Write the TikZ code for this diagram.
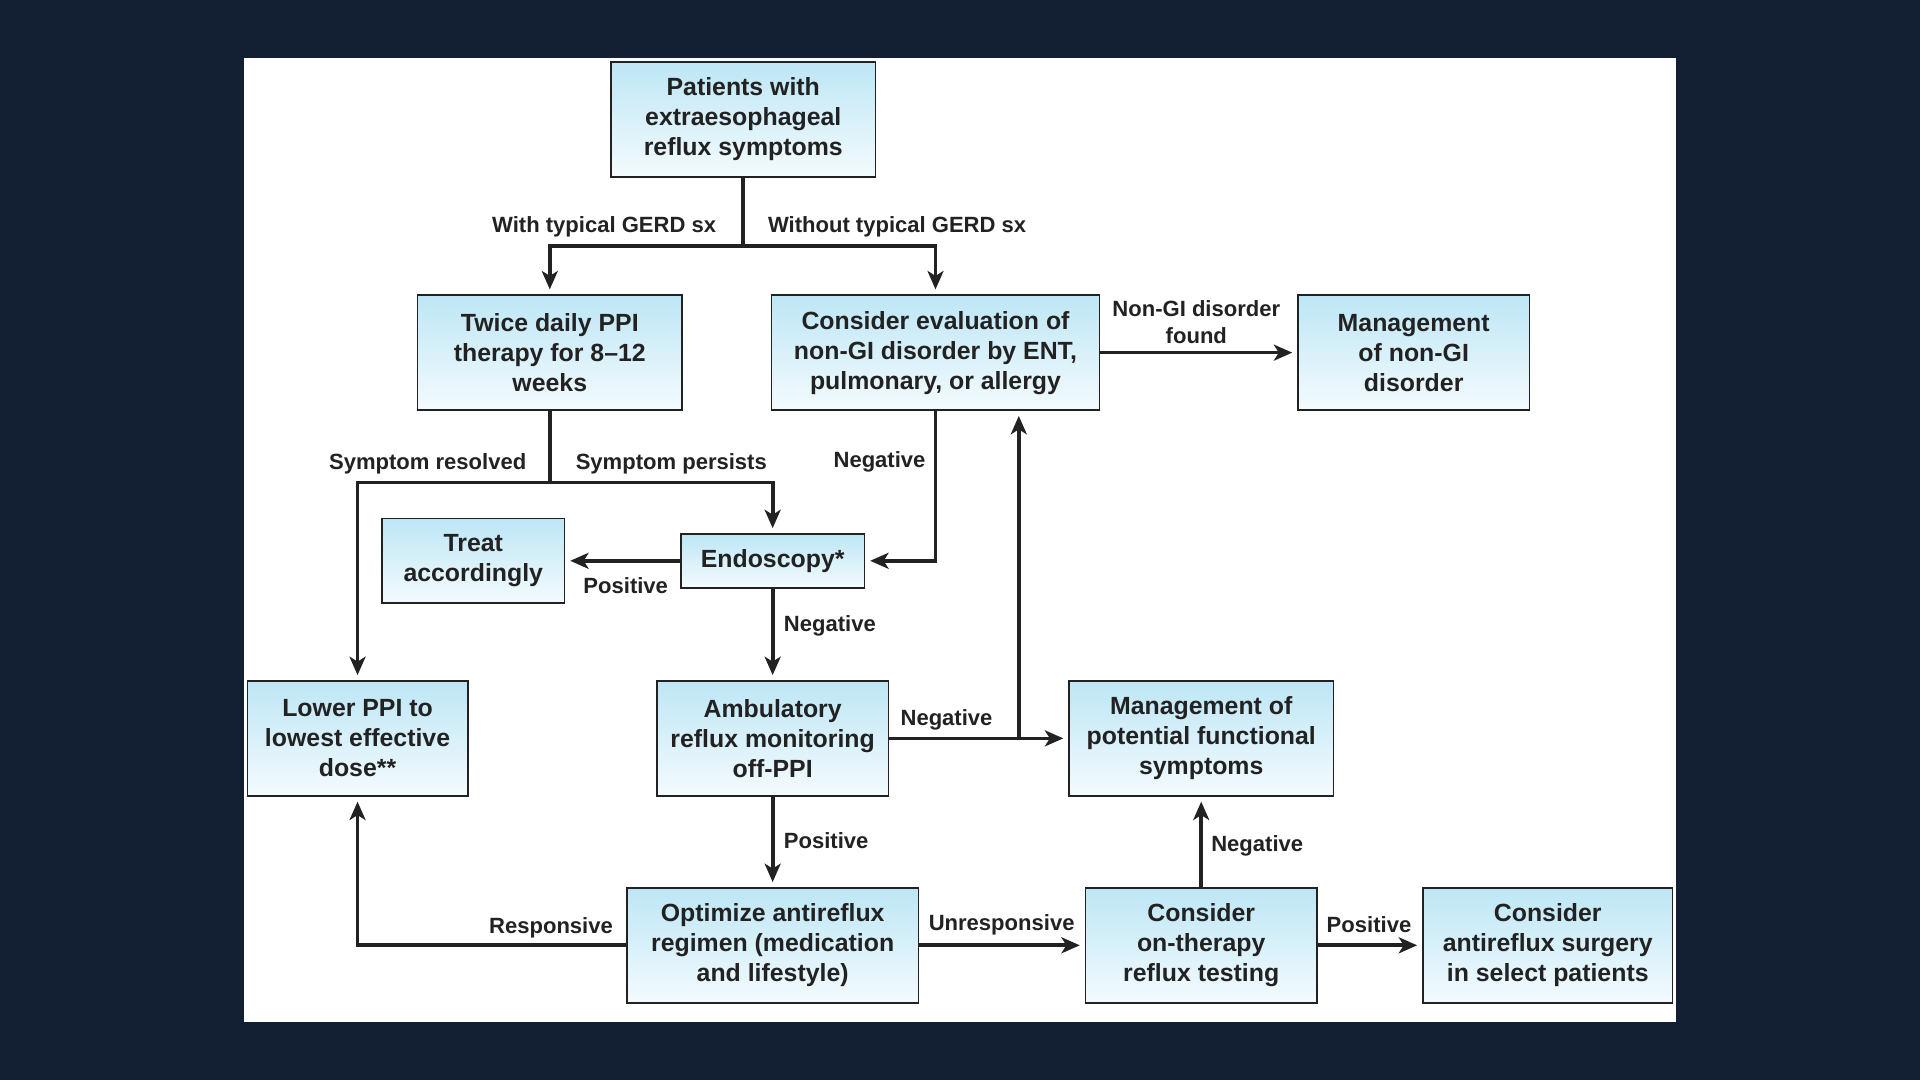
\documentclass[tikz,border=0pt]{standalone}
\usepackage{fontspec}
\setmainfont{Liberation Sans}
\usetikzlibrary{arrows.meta}
\definecolor{navy}{HTML}{132034}
\definecolor{boxtop}{HTML}{BDE6F5}
\definecolor{boxbot}{HTML}{F4FBFE}
\definecolor{ink}{HTML}{222222}
\begin{document}
\begin{tikzpicture}[x=1pt,y=-1pt,
  box/.style={draw=ink, line width=1.3pt, top color=boxtop, bottom color=boxbot,
    align=center, font=\bfseries\fontsize{20.3}{24.5}\selectfont, text=ink, inner sep=0pt},
  lbl/.style={font=\bfseries\fontsize{18}{21.5}\selectfont, text=ink, inner sep=0pt, align=center},
  conn/.style={draw=ink, line width=3pt},
  arr/.style={conn, -{Stealth[length=15pt,width=13pt,inset=4pt]}, shorten >=4pt}]
\fill[navy] (0,0) rectangle (1568,882);
\fill[white] (199,47) rectangle (1369,835);
\useasboundingbox (0,0) rectangle (1568,882);

% boxes
\node[box, minimum width=216pt, minimum height=94pt] (pt) at (607,97.5) {Patients with\\extraesophageal\\reflux symptoms};
\node[box, minimum width=216pt, minimum height=94pt] (tw) at (449,288) {Twice daily PPI\\therapy for 8--12\\weeks};
\node[box, minimum width=268pt, minimum height=94pt] (ce) at (764,288) {Consider evaluation of\\non-GI disorder by ENT,\\pulmonary, or allergy};
\node[box, minimum width=189pt, minimum height=94pt] (mn) at (1154.5,288) {Management\\of non-GI\\disorder};
\node[box, minimum width=149pt, minimum height=69pt] (ta) at (386.5,458) {Treat\\accordingly};
\node[box, minimum width=150pt, minimum height=44pt] (en) at (631,458) {Endoscopy*};
\node[box, minimum width=180pt, minimum height=94pt] (lp) at (292,603) {Lower PPI to\\lowest effective\\dose**};
\node[box, minimum width=189pt, minimum height=94pt] (am) at (631,603) {Ambulatory\\reflux monitoring\\off-PPI};
\node[box, minimum width=216pt, minimum height=94pt] (mf) at (981,603) {Management of\\potential functional\\symptoms};
\node[box, minimum width=238pt, minimum height=94pt] (op) at (631,772) {Optimize antireflux\\regimen (medication\\and lifestyle)};
\node[box, minimum width=189pt, minimum height=94pt] (ot) at (981,772) {Consider\\on-therapy\\reflux testing};
\node[box, minimum width=204pt, minimum height=94pt] (su) at (1264,772) {Consider\\antireflux surgery\\in select patients};

% junctions
\coordinate (j1) at (607,201);
\coordinate (j2) at (449,394);
\coordinate (j3) at (832,603);

% connectors
\draw[conn] (pt.south) -- (j1);
\draw[arr] (j1) -| (tw.north);
\draw[arr] (j1) -| (ce.north);
\draw[arr] (ce.east) -- (mn.west);
\draw[conn] (tw.south) -- (j2);
\draw[arr] (j2) -| (lp.north);
\draw[arr] (j2) -| (en.north);
\draw[arr] (ce.south) |- (en.east);
\draw[arr] (en.west) -- (ta.east);
\draw[arr] (en.south) -- (am.north);
\draw[arr] (am.east) -- (mf.west);
\draw[arr] (j3) -- (j3 |- ce.south);
\draw[arr] (am.south) -- (op.north);
\draw[arr] (op.west) -| (lp.south);
\draw[arr] (op.east) -- (ot.west);
\draw[arr] (ot.north) -- (mf.south);
\draw[arr] (ot.east) -- (su.west);

% labels
\node[lbl, anchor=east] (l1) at (585,185.5) {With typical GERD sx};
\node[lbl, anchor=west] (l2) at (627,185.5) {Without typical GERD sx};
\node[lbl] (l3) at (977,263) {Non-GI disorder\\found};
\node[lbl, anchor=east] (l4) at (430,378.5) {Symptom resolved};
\node[lbl, anchor=west] (l5) at (470,378.5) {Symptom persists};
\node[lbl, anchor=east] (l6) at (756,377.5) {Negative};
\node[lbl] (l7) at (511,478.5) {Positive};
\node[lbl, anchor=west] (l8) at (640,511.5) {Negative};
\node[lbl] (l9) at (773,587.5) {Negative};
\node[lbl, anchor=west] (l10) at (640,686.5) {Positive};
\node[lbl] (l11) at (450,757.5) {Responsive};
\node[lbl] (l12) at (818,755.5) {Unresponsive};
\node[lbl, anchor=west] (l13) at (989,690.5) {Negative};
\node[lbl] (l14) at (1118,755.5) {Positive};
\end{tikzpicture}
\end{document}
